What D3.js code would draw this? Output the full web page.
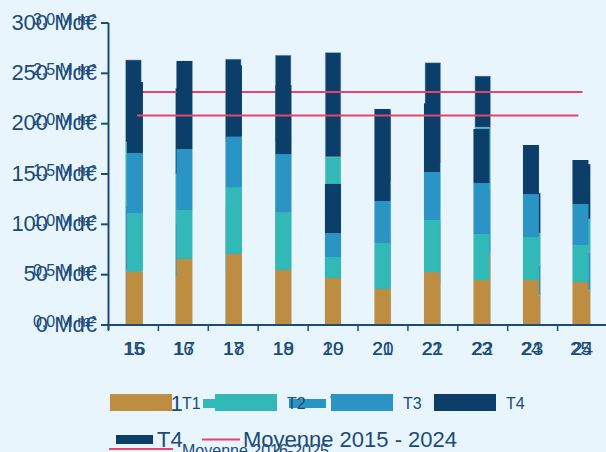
<!doctype html>
<html lang="fr">
<head>
<meta charset="utf-8">
<title>Bureaux</title>
<script src="https://d3js.org/d3.v7.min.js"></script>
<style>
  body { margin: 0; background: #e9f5fc; }
  svg { display: block; font-family: "Liberation Sans", Arial, sans-serif; }
</style>
</head>
<body>
<script>
// chart A : Md€, 2015-2024 (drawn underneath)
var yearsA = ["15", "16", "17", "18", "19", "20", "21", "22", "23", "24"];
var a_T1 = [54.6, 48, 53, 55, 52, 40, 41.7, 71.5, 29.8, 34.8];
var a_T2 = [62.9, 48.4, 62.9, 63, 58, 50, 57.6, 62.3, 31.8, 32.8];
var a_T3 = [64.3, 53.6, 66.3, 64, 57, 53, 61.6, 62.6, 29.8, 37.7];
var a_T4 = [81.5, 85.1, 81.9, 86, 103.6, 70, 99.6, 50.9, 39.6, 54.6];
var avgA = 231.4;
var ticksA = [0, 50, 100, 150, 200, 250, 300];

// chart B : M m², 2016-2025 (drawn on top)
var yearsB = ["16", "17", "18", "19", "20", "21", "22", "23", "24", "25"];
var b_T1 = [0.53, 0.656, 0.708, 0.546, 0.467, 0.358, 0.526, 0.447, 0.447, 0.427];
var b_T2 = [0.583, 0.487, 0.659, 0.576, 0.209, 0.457, 0.517, 0.457, 0.427, 0.368];
var b_T3 = [0.596, 0.606, 0.507, 0.576, 0.238, 0.417, 0.477, 0.507, 0.427, 0.407];
var b_T4 = [0.705, 0.874, 0.705, 0.685, 0.487, 0.914, 0.682, 0.536, 0.487, 0.437];
var avgB = 2.08;
var ticksB = [0, 0.5, 1, 1.5, 2, 2.5, 3];

var colors = {T1: "#bd8e41", T2: "#32b8b7", T3: "#2a95c5", T4: "#0b3e69"};
var ink = "#1b4c78", red = "#e8436c";

var svg = d3.select("body").append("svg").attr("width", 606).attr("height", 452);

var xA = d3.scaleBand().domain(yearsA).range([108.5, 607.5]).paddingInner(0.687).paddingOuter(0.3435);
var xB = d3.scaleBand().domain(yearsB).range([110.2, 605.2]).paddingInner(0.677).paddingOuter(0.3385);
var yA = d3.scaleLinear().domain([0, 300]).range([325, 23]);
var yB = d3.scaleLinear().domain([0, 3]).range([325, 23]);

function rows(years, s) {
    return years.map(function(y, i) {
        return {year: y, T1: s.T1[i], T2: s.T2[i], T3: s.T3[i], T4: s.T4[i]};
    });
}
var dataA = rows(yearsA, {T1: a_T1, T2: a_T2, T3: a_T3, T4: a_T4});
var dataB = rows(yearsB, {T1: b_T1, T2: b_T2, T3: b_T3, T4: b_T4});

function drawBars(g, data, keys, x, y, stroke) {
    var stacked = d3.stack().keys(keys)(data);
    g.selectAll("g").data(stacked).enter().append("g")
        .attr("fill", function(d) { return colors[d.key]; })
        .selectAll("rect").data(function(d) { return d; }).enter().append("rect")
        .attr("x", function(d) { return x(d.data.year); })
        .attr("width", x.bandwidth())
        .attr("y", function(d) { return y(d[1]); })
        .attr("height", function(d) { return y(d[0]) - y(d[1]); })
        .attr("stroke", stroke || "none")
        .attr("stroke-width", 0.8);
}

// A bars
drawBars(svg.append("g"), dataA, ["T1", "T3", "T2", "T4"], xA, yA, "rgba(160,185,205,0.6)");
// A mean line (under B bars)
svg.append("line")
    .attr("x1", xA(yearsA[0]) + xA.bandwidth() / 2).attr("x2", xA(yearsA[9]) + xA.bandwidth() / 2)
    .attr("y1", yA(avgA)).attr("y2", yA(avgA))
    .attr("stroke", red).attr("stroke-width", 2);

// B bars
drawBars(svg.append("g"), dataB, ["T1", "T2", "T3", "T4"], xB, yB);
svg.append("line")
    .attr("x1", xB(yearsB[0]) + xB.bandwidth() / 2 + 2).attr("x2", xB(yearsB[9]) + xB.bandwidth() / 2 - 2)
    .attr("y1", yB(avgB)).attr("y2", yB(avgB))
    .attr("stroke", red).attr("stroke-width", 2);

// axes
var axis = svg.append("g").attr("stroke", ink).attr("stroke-width", 2);
axis.append("line").attr("x1", 108.5).attr("x2", 108.5).attr("y1", yA(300)).attr("y2", yA(0) + 5);
axis.append("line").attr("x1", 101).attr("x2", 606).attr("y1", yA(0)).attr("y2", yA(0));
axis.selectAll("line.ty").data(ticksA).enter().append("line")
    .attr("x1", 101).attr("x2", 108.5)
    .attr("y1", function(d) { return yA(d); }).attr("y2", function(d) { return yA(d); });
axis.selectAll("line.tx").data(yearsA).enter().append("line")
    .attr("x1", function(d) { return xA(d) - xA.step() * xA.paddingOuter(); })
    .attr("x2", function(d) { return xA(d) - xA.step() * xA.paddingOuter(); })
    .attr("y1", yA(0)).attr("y2", yA(0) + 6)
    .attr("stroke-width", 1.5);

// y labels
svg.append("g").selectAll("text").data(ticksA).enter().append("text")
    .attr("x", 97).attr("y", function(d) { return yA(d); }).attr("dy", "0.3em")
    .attr("text-anchor", "end").attr("font-size", 22).attr("fill", ink)
    .text(function(d) { return d + " Md€"; });
svg.append("g").selectAll("text").data(ticksB).enter().append("text")
    .attr("x", 96).attr("y", function(d) { return yB(d); }).attr("dy", "0.1em")
    .attr("text-anchor", "end").attr("font-size", 16).attr("fill", ink)
    .text(function(d) { return d3.format(".1f")(d).replace(".", ",") + " M m²"; });

// x labels
svg.append("g").selectAll("text").data(yearsA).enter().append("text")
    .attr("x", function(d) { return xA(d) + xA.bandwidth() / 2; }).attr("y", 355)
    .attr("text-anchor", "middle").attr("font-size", 19).attr("fill", ink)
    .text(function(d) { return d; });
svg.append("g").selectAll("text").data(yearsB).enter().append("text")
    .attr("x", function(d) { return xB(d) + xB.bandwidth() / 2; }).attr("y", 355)
    .attr("text-anchor", "middle").attr("font-size", 19).attr("fill", ink)
    .text(function(d) { return d; });

// legend A (big text, small swatches)
var legA = [
    {key: "T1", x: 116, y: 403.5}, {key: "T2", x: 203, y: 403.5}, {key: "T3", x: 289, y: 403.5},
    {key: "T4", x: 116, y: 439.5}
];
var lA = svg.append("g").attr("font-size", 22).attr("fill", ink);
legA.forEach(function(d) {
    lA.append("rect").attr("x", d.x).attr("y", d.y - 4.5).attr("width", 37).attr("height", 9).attr("fill", colors[d.key]);
    lA.append("text").attr("x", d.x + 41).attr("y", d.y + 7.5).text(d.key);
});
lA.append("line").attr("x1", 202).attr("x2", 240).attr("y1", 439.5).attr("y2", 439.5)
    .attr("stroke", red).attr("stroke-width", 2);
lA.append("text").attr("x", 243).attr("y", 447).text("Moyenne 2015 - 2024");

// legend B (small text, big swatches)
var legB = [
    {key: "T1", x: 110}, {key: "T2", x: 215}, {key: "T3", x: 331}, {key: "T4", x: 434}
];
var lB = svg.append("g").attr("font-size", 16).attr("fill", ink);
legB.forEach(function(d) {
    lB.append("rect").attr("x", d.x).attr("y", 394).attr("width", 62).attr("height", 17).attr("fill", colors[d.key]);
    lB.append("text").attr("x", d.x + 72).attr("y", 408.5).text(d.key);
});
lB.append("line").attr("x1", 109).attr("x2", 173).attr("y1", 449).attr("y2", 449)
    .attr("stroke", red).attr("stroke-width", 2);
lB.append("text").attr("x", 182).attr("y", 456).text("Moyenne 2016-2025");
</script>
</body>
</html>
